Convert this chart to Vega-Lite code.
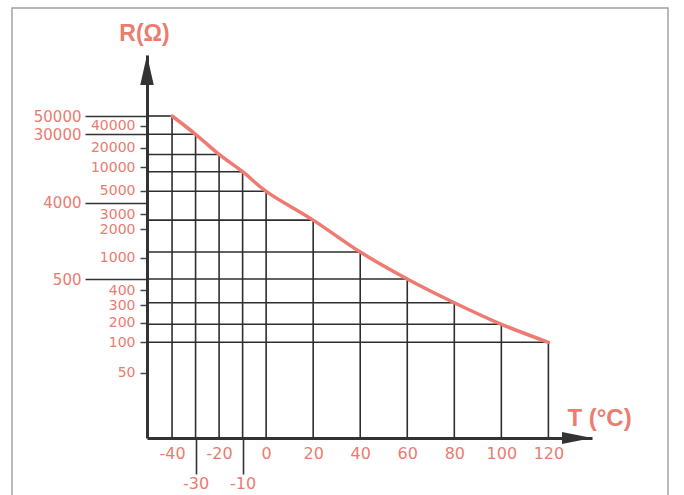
{
  "$schema": "https://vega.github.io/schema/vega-lite/v6.json",
  "width": 445,
  "height": 383,
  "autosize": {"type": "none"},
  "padding": {"left": 147, "top": 55, "right": 92, "bottom": 57},
  "background": "#ffffff",
  "config": {"view": {"stroke": null}, "font": "Liberation Sans"},
  "data": {"values": [
    {"T": -40, "R": 50000},
    {"T": -30, "R": 30000},
    {"T": -20, "R": 16500},
    {"T": -10, "R": 9000},
    {"T": 0, "R": 4950},
    {"T": 20, "R": 2600},
    {"T": 40, "R": 1200},
    {"T": 60, "R": 500},
    {"T": 80, "R": 315},
    {"T": 100, "R": 192},
    {"T": 120, "R": 100}
  ]},
  "layer": [
    {
      "data": {"values": [{"part": "frame"}]},
      "mark": {"type": "rect", "fill": "transparent", "stroke": "#a3a3a3", "strokeWidth": 1.5},
      "encoding": {
        "x": {"datum": -108.05, "type": "quantitative", "scale": {"domain": [-50.65, 138.54], "nice": false, "zero": false}, "axis": null},
        "x2": {"datum": 170.85, "type": "quantitative"},
        "y": {"datum": 138525, "type": "quantitative", "scale": {"type": "linear", "domain": [0, 50, 100, 200, 300, 400, 500, 1000, 2000, 3000, 4000, 5000, 10000, 20000, 30000, 40000, 50000, 100000], "range": [383, 317.7, 287.3, 267.7, 250, 235, 224, 202.7, 174.3, 159, 147.7, 135.7, 112, 92.7, 79.3, 70.7, 61, 0], "nice": false, "zero": false}, "axis": null},
        "y2": {"datum": -47.5, "type": "quantitative"}
      }
    },
    {
      "mark": {"type": "rule", "color": "#2e2e2e", "strokeWidth": 1.6},
      "encoding": {
        "x": {"field": "T", "type": "quantitative", "scale": {"domain": [-50.65, 138.54], "nice": false, "zero": false},
          "axis": {"orient": "bottom", "values": [-40, -20, 0, 20, 40, 60, 80, 100, 120], "labelExpr": "datum.value + ''", "domain": true, "domainColor": "#333333", "domainWidth": 3, "ticks": false, "labelPadding": 7,
            "labelFont": "DejaVu Sans", "labelFontSize": 16, "labelColor": "#ec7b70", "labelFlush": false, "labelOverlap": false, "labelBound": false, "grid": false,
            "title": "T (°C)", "titleX": 452, "titleY": -20, "titleAlign": "center", "titleBaseline": "middle", "titleFont": "Liberation Sans", "titleFontSize": 24, "titleFontWeight": "bold", "titleColor": "#ec7b70"}},
        "y": {"field": "R", "type": "quantitative", "scale": {"type": "linear", "domain": [0, 50, 100, 200, 300, 400, 500, 1000, 2000, 3000, 4000, 5000, 10000, 20000, 30000, 40000, 50000, 100000], "range": [383, 317.7, 287.3, 267.7, 250, 235, 224, 202.7, 174.3, 159, 147.7, 135.7, 112, 92.7, 79.3, 70.7, 61, 0], "nice": false, "zero": false},
          "axis": {"orient": "left", "values": [50, 100, 200, 300, 400, 1000, 2000, 3000, 5000, 10000, 20000, 40000], "format": "d", "domain": true, "domainColor": "#333333", "domainWidth": 3, "ticks": true, "tickColor": "#444444", "tickWidth": 1.5, "tickSize": 7, "labelPadding": 5, "labelFont": "DejaVu Sans", "labelFontSize": 14, "labelColor": "#ec7b70", "labelOverlap": false, "labelBound": false, "labelFlush": false, "grid": false,
            "title": "R(Ω)", "titleAngle": 0, "titleX": -3, "titleY": -22, "titleAlign": "center", "titleBaseline": "middle", "titleFont": "Liberation Sans", "titleFontSize": 23, "titleFontWeight": "bold", "titleColor": "#ec7b70"}},
        "y2": {"datum": 0, "type": "quantitative"}
      }
    },
    {
      "mark": {"type": "rule", "color": "#2e2e2e", "strokeWidth": 1.6},
      "encoding": {
        "x": {"datum": -50.65, "type": "quantitative", "scale": {"domain": [-50.65, 138.54], "nice": false, "zero": false},
          "axis": {"orient": "bottom", "values": [-30, -10], "labelExpr": "datum.value + ''", "domain": false, "ticks": true, "tickColor": "#333333", "tickWidth": 1.6, "tickSize": 36, "labelPadding": 1,
            "labelFont": "DejaVu Sans", "labelFontSize": 16, "labelColor": "#ec7b70", "labelFlush": false, "labelOverlap": false, "labelBound": false, "grid": false, "title": null}},
        "x2": {"field": "T", "type": "quantitative"},
        "y": {"field": "R", "type": "quantitative", "scale": {"type": "linear", "domain": [0, 50, 100, 200, 300, 400, 500, 1000, 2000, 3000, 4000, 5000, 10000, 20000, 30000, 40000, 50000, 100000], "range": [383, 317.7, 287.3, 267.7, 250, 235, 224, 202.7, 174.3, 159, 147.7, 135.7, 112, 92.7, 79.3, 70.7, 61, 0], "nice": false, "zero": false},
          "axis": {"orient": "left", "values": [500, 4000, 30000, 50000], "format": "d", "domain": false, "ticks": true, "tickColor": "#333333", "tickWidth": 1.6, "tickSize": 62, "labelPadding": 4, "labelFont": "DejaVu Sans", "labelFontSize": 15, "labelColor": "#ec7b70", "labelOverlap": false, "labelBound": false, "labelFlush": false, "grid": false, "title": null}}
      }
    },
    {
      "mark": {"type": "line", "color": "#ee7a72", "strokeWidth": 3.5, "interpolate": "catmull-rom", "strokeCap": "round"},
      "encoding": {
        "x": {"field": "T", "type": "quantitative", "scale": {"domain": [-50.65, 138.54], "nice": false, "zero": false}, "axis": null},
        "y": {"field": "R", "type": "quantitative", "scale": {"type": "linear", "domain": [0, 50, 100, 200, 300, 400, 500, 1000, 2000, 3000, 4000, 5000, 10000, 20000, 30000, 40000, 50000, 100000], "range": [383, 317.7, 287.3, 267.7, 250, 235, 224, 202.7, 174.3, 159, 147.7, 135.7, 112, 92.7, 79.3, 70.7, 61, 0], "nice": false, "zero": false}, "axis": null}
      }
    },
    {
      "data": {"values": [{"part": "R arrow"}]},
      "mark": {"type": "point", "shape": "M0,0 L-0.45,2 L0.45,2 Z", "size": 900, "filled": true, "color": "#333333", "opacity": 1, "strokeWidth": 0},
      "encoding": {
        "x": {"datum": -50.65, "type": "quantitative", "scale": {"domain": [-50.65, 138.54], "nice": false, "zero": false}, "axis": null},
        "y": {"datum": 100000, "type": "quantitative", "scale": {"type": "linear", "domain": [0, 50, 100, 200, 300, 400, 500, 1000, 2000, 3000, 4000, 5000, 10000, 20000, 30000, 40000, 50000, 100000], "range": [383, 317.7, 287.3, 267.7, 250, 235, 224, 202.7, 174.3, 159, 147.7, 135.7, 112, 92.7, 79.3, 70.7, 61, 0], "nice": false, "zero": false}, "axis": null}
      }
    },
    {
      "data": {"values": [{"part": "T arrow"}]},
      "mark": {"type": "point", "shape": "M0,0 L-2,-0.4 L-2,0.4 Z", "size": 900, "filled": true, "color": "#333333", "opacity": 1, "strokeWidth": 0},
      "encoding": {
        "x": {"datum": 138.54, "type": "quantitative", "scale": {"domain": [-50.65, 138.54], "nice": false, "zero": false}, "axis": null},
        "y": {"datum": 0, "type": "quantitative", "scale": {"type": "linear", "domain": [0, 50, 100, 200, 300, 400, 500, 1000, 2000, 3000, 4000, 5000, 10000, 20000, 30000, 40000, 50000, 100000], "range": [383, 317.7, 287.3, 267.7, 250, 235, 224, 202.7, 174.3, 159, 147.7, 135.7, 112, 92.7, 79.3, 70.7, 61, 0], "nice": false, "zero": false}, "axis": null}
      }
    }
  ],
  "resolve": {"axis": {"x": "independent", "y": "independent"}}
}
